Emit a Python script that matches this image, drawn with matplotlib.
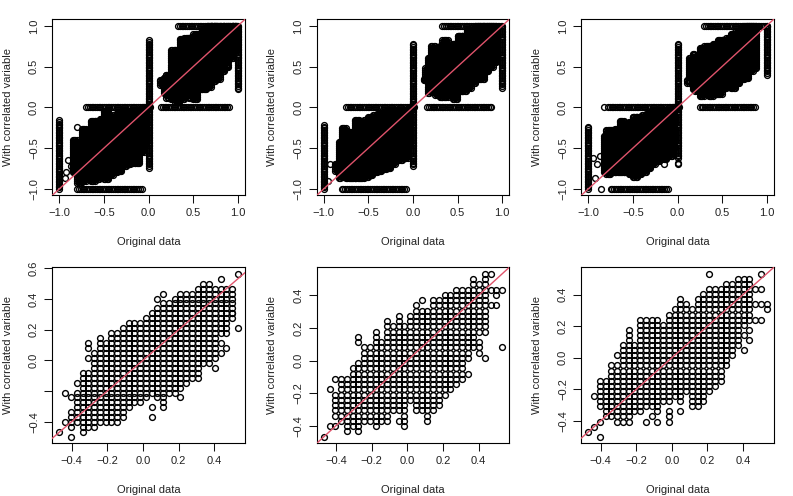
import numpy as np
import matplotlib
matplotlib.use("Agg")
import matplotlib.pyplot as plt

plt.rcParams['font.family'] = ['Liberation Sans', 'DejaVu Sans']

# Values. The black clouds are too dense to read point by
# point, so top panels store per-column envelopes and the lattice panels store
# per-column row ranges; points fill those read extents.
LATTICE = 31.0

# bottom panels: column index k -> (high row, low row), plus isolated (k, row) points
cols_bl = {-12:(-7,-13),-11:(-3,-15),-10:(-3,-14),-9:(1,-14),-8:(4,-13),-7:(3,-13),-6:(5,-13),-5:(5,-13),
           -4:(6,-12),-3:(7,-10),-2:(7,-9),-1:(7,-9),0:(8,-8),1:(9,-7),2:(10,-8),3:(11,-8),4:(11,-7),
           5:(12,-7),6:(13,-6),7:(13,-5),8:(13,-4),9:(14,-4),10:(15,-1),11:(15,-1),12:(14,0),13:(14,5),
           14:(14,5),15:(14,8)}
pts_bl = [(-15,-15),(-14,-7),(-14,-13),(-13,-8),(-13,-11),(-13,-12),(-13,-13),(-13,-14),(-13,-16),(-12,-5),
          (-10,3),(-10,2),(-10,0),(1,-10),(1,-12),(2,12),(3,13),(3,-9),(3,-10),(6,-8),(12,-2),(13,3),(13,1),
          (13,16),(14,2),(15,9),(16,17),(16,6)]

cols_bm = {-13:(-7,-11),-12:(-4,-12),-11:(-4,-14),-10:(-2,-13),-9:(-1,-13),-8:(2,-12),-7:(2,-12),-6:(3,-13),
           -5:(3,-12),-4:(7,-12),-3:(6,-10),-2:(8,-10),-1:(6,-10),0:(8,-8),1:(10,-10),2:(9,-10),3:(9,-12),
           4:(11,-10),5:(11,-9),6:(12,-7),7:(12,-6),8:(13,-5),9:(13,-4),10:(13,0),11:(15,2),12:(14,5),13:(15,5)}
pts_bm = [(-15,-15),(-14,-6),(-14,-13),(-13,-4),(-13,-13),(-9,3),(-9,4),(-9,-14),(-6,5),(-6,4),(-2,-12),
          (-1,-11),(-1,-12),(-1,-13),(2,11),(10,-3),(12,3),(12,2),(12,1),(13,16),(13,0),(14,16),(14,13),
          (14,10),(15,13),(15,12),(15,10),(16,13),(16,2)]

cols_br = {-13:(-5,-10),-12:(-5,-12),-11:(-2,-12),-10:(-2,-13),-9:(2,-13),-8:(5,-13),-7:(2,-11),-6:(7,-11),
           -5:(7,-10),-4:(7,-10),-3:(7,-11),-2:(6,-9),-1:(8,-9),0:(9,-8),1:(10,-9),2:(10,-7),3:(9,-10),
           4:(11,-10),5:(12,-9),6:(13,-7),7:(13,-6),8:(13,-5),9:(14,-2),10:(14,0),11:(15,2),12:(15,6),13:(15,7)}
pts_br = [(-15,-15),(-14,-8),(-14,-14),(-13,-13),(-13,-16),(-10,0),(-5,-13),(-4,-12),(-3,-13),(-1,-11),(-1,-12),
          (-1,-13),(1,11),(1,-11),(6,16),(12,4),(12,1),(13,5),(13,3),(14,13),(14,10),(14,7),(15,16),(15,13),
          (15,10),(15,7),(16,10),(16,9)]

# top panels: x, upper y, lower y of the dense clouds
tl_x = [-0.85,-0.80,-0.75,-0.70,-0.65,-0.60,-0.55,-0.50,-0.45,-0.40,-0.35,-0.30,-0.25,-0.20,-0.15,-0.10,-0.05,
        0.13,0.17,0.20,0.25,0.30,0.35,0.40,0.45,0.50,0.55,0.60,0.65,0.70,0.75,0.80,0.85,0.90,0.95]
tl_hi = [-0.40,-0.50,-0.27,-0.30,-0.17,-0.17,-0.14,-0.05,-0.12,-0.10,-0.07,-0.05,-0.05,-0.05,-0.03,-0.02,0.00,
         0.33,0.36,0.40,0.70,0.70,0.84,0.85,0.85,0.90,0.90,0.95,1.00,1.00,1.00,1.00,1.00,1.00,1.00]
tl_lo = [-0.80,-0.93,-0.90,-0.85,-0.90,-0.88,-0.85,-0.88,-0.83,-0.80,-0.78,-0.72,-0.70,-0.68,-0.68,-0.55,-0.45,
         0.27,0.18,0.12,0.10,0.07,0.10,0.15,0.12,0.10,0.22,0.23,0.25,0.32,0.35,0.45,0.50,0.60,0.70]
tl_pts = [(-0.93,-0.80),(-0.94,-0.87),(-0.90,-0.65),(-0.87,-0.72),(-0.84,-0.66),(-0.80,-0.24)]

tm_x = [-0.87,-0.83,-0.80,-0.75,-0.70,-0.65,-0.60,-0.55,-0.50,-0.45,-0.40,-0.35,-0.30,-0.25,-0.20,-0.12,-0.05,
        0.12,0.14,0.17,0.20,0.25,0.30,0.33,0.40,0.45,0.50,0.55,0.60,0.65,0.70,0.75,0.80,0.85,0.90]
tm_hi = [-0.70,-0.42,-0.25,-0.30,-0.30,-0.16,-0.18,-0.15,-0.12,-0.10,-0.08,-0.07,-0.05,-0.04,-0.03,-0.03,0.00,
         0.35,0.48,0.60,0.75,0.72,0.75,0.83,0.75,0.78,0.88,0.88,0.95,0.97,1.00,1.00,1.00,1.00,1.00]
tm_lo = [-0.78,-0.87,-0.85,-0.87,-0.87,-0.87,-0.87,-0.85,-0.83,-0.80,-0.78,-0.76,-0.75,-0.70,-0.65,-0.62,-0.45,
         0.33,0.33,0.18,0.20,0.15,0.13,0.13,0.15,0.10,0.20,0.20,0.24,0.30,0.35,0.35,0.45,0.50,0.55]
tm_pts = [(-0.93,-0.69),(-0.95,-0.90)]

tr_x = [-0.83,-0.80,-0.75,-0.70,-0.65,-0.60,-0.55,-0.50,-0.45,-0.40,-0.35,-0.30,-0.25,-0.20,-0.12,-0.05,
        0.11,0.13,0.17,0.20,0.25,0.30,0.35,0.40,0.45,0.50,0.55,0.60,0.65,0.70,0.75,0.80,0.85]
tr_hi = [-0.35,-0.28,-0.28,-0.27,-0.17,-0.22,-0.18,-0.12,-0.12,-0.10,-0.08,-0.05,-0.04,-0.03,-0.03,0.00,
         0.33,0.60,0.65,0.60,0.73,0.75,0.75,0.78,0.82,0.83,0.85,0.90,0.92,0.95,1.00,1.00,1.00]
tr_lo = [-0.80,-0.82,-0.80,-0.80,-0.80,-0.80,-0.82,-0.85,-0.82,-0.80,-0.75,-0.70,-0.66,-0.63,-0.60,-0.50,
         0.30,0.38,0.22,0.20,0.14,0.20,0.14,0.16,0.16,0.24,0.25,0.24,0.30,0.35,0.36,0.45,0.48]
tr_pts = [(-0.93,-0.87),(-0.95,-0.62),(-0.90,-0.70),(-0.87,-0.60),(-0.15,-0.69),(0.0,-0.68),(0.0,-0.70),(-0.83,0.0),(-0.86,-1.0)]

# rails: x=-1 span, x=0 span, x=1 span, y=0 negative span, y=-1 span, y=1 span, y=0 positive span
rails_tl = dict(xm1=(-1.0,-0.15), x0=(-0.74,0.82), xp1=(0.22,1.0), y0n=(-0.70,0.02), ym1=(-0.80,-0.07), yp1=(0.33,1.0), y0p=(0.14,0.90))
rails_tm = dict(xm1=(-1.0,-0.22), x0=(-0.72,0.78), xp1=(0.24,1.0), y0n=(-0.75,0.02), ym1=(-0.80,-0.08), yp1=(0.33,1.0), y0p=(0.16,0.88))
rails_tr = dict(xm1=(-1.0,-0.23), x0=(-0.62,0.78), xp1=(0.40,1.0), y0n=(-0.78,0.02), ym1=(-0.75,-0.10), yp1=(0.30,1.0), y0p=(0.25,0.88))

tick_top = [-1.0,-0.5,0.0,0.5,1.0]
lab_top = ['\u22121.0','\u22120.5','0.0','0.5','1.0']
tick_x_bot = [-0.4,-0.2,0.0,0.2,0.4]
lab_x_bot = ['\u22120.4','\u22120.2','0.0','0.2','0.4']
lab_y_bl = ['\u22120.4','','0.0','0.2','0.4','0.6']
tick_y_bl = [-0.4,-0.2,0.0,0.2,0.4,0.6]

W, H = 793.0, 496.0
frames = [(52.3,245.0,19.3,195.3),(316.7,509.3,19.3,195.3),(581.3,773.7,19.3,195.3),
          (52.3,245.0,267.3,443.3),(316.7,509.3,267.3,443.3),(581.3,773.7,267.3,443.3)]

def top_points(xs, hi, lo, pts, r):
    X, Y = [], []
    for n, (x, a, b) in enumerate(zip(xs, hi, lo)):
        nxt = xs[n + 1] if n + 1 < len(xs) else x + 0.03
        span = nxt - x if nxt - x <= 0.11 else 0.03
        for px in np.arange(x, x + span, 0.015):
            ys = np.append(np.arange(b, a, 0.025), a)
            X += [px] * len(ys); Y += list(ys)
    for key, at_x in (('xm1', -1.0), ('x0', 0.0), ('xp1', 1.0)):
        ys = np.arange(r[key][0], r[key][1] + 1e-9, 0.02)
        X += [at_x] * len(ys); Y += list(ys)
    for key, at_y in (('y0n', 0.0), ('ym1', -1.0), ('yp1', 1.0), ('y0p', 0.0)):
        xv = np.arange(r[key][0], r[key][1] + 1e-9, 0.02)
        X += list(xv); Y += [at_y] * len(xv)
    for p in pts:
        X.append(p[0]); Y.append(p[1])
    return X, Y

def lat_points(cols, pts):
    X, Y = [], []
    for k, (a, b) in cols.items():
        for j in range(b, a + 1):
            X.append((k + 0.5) / LATTICE); Y.append((j + 0.5) / LATTICE)
    for k, j in pts:
        X.append((k + 0.5) / LATTICE); Y.append((j + 0.5) / LATTICE)
    return X, Y

data = [top_points(tl_x, tl_hi, tl_lo, tl_pts, rails_tl),
        top_points(tm_x, tm_hi, tm_lo, tm_pts, rails_tm),
        top_points(tr_x, tr_hi, tr_lo, tr_pts, rails_tr),
        lat_points(cols_bl, pts_bl), lat_points(cols_bm, pts_bm), lat_points(cols_br, pts_br)]

limits = [((-1.08,1.08),(-1.08,1.08))]*3 + [((-0.508,0.572),(-0.541,0.607)),
          ((-0.508,0.572),(-0.508,0.572)), ((-0.508,0.572),(-0.541,0.573))]

fig = plt.figure(figsize=(7.93,4.96), dpi=100)
for i, ((x0,x1,y0,y1), (X,Y), (xl,yl)) in enumerate(zip(frames, data, limits)):
    ax = fig.add_axes([x0/W, 1-y1/H, (x1-x0)/W, (y1-y0)/H])
    ax.plot(X, Y, 'o', mfc='none', mec='black', ms=4.2, mew=1.0, ls='none', clip_on=True)
    ax.plot([-2,2],[-2,2], color='#DF536B', lw=1.0, zorder=5)
    ax.set_xlim(xl); ax.set_ylim(yl)
    if i < 3:
        ax.set_xticks(tick_top, lab_top); ax.set_yticks(tick_top, lab_top)
    else:
        ax.set_xticks(tick_x_bot, lab_x_bot)
        if i == 3:
            ax.set_yticks(tick_y_bl, lab_y_bl)
        else:
            ax.set_yticks(tick_x_bot, lab_x_bot)
    ax.tick_params(length=5.5, width=0.75, labelsize=8, pad=4, color='#111111', labelcolor='#222222')
    for t in ax.get_yticklabels():
        t.set_rotation(90); t.set_va('center')
    for s in ax.spines.values():
        s.set_linewidth(0.8)
    fig.text((x0+x1)/2/W, 1-(y1+47)/H, 'Original data', ha='center', va='center', fontsize=8, color='#222222')
    fig.text((x0-44.5)/W, 1-(y0+y1)/2/H, 'With correlated variable', rotation=90, ha='center', va='center', fontsize=8, color='#222222')
fig.savefig('out.png', dpi=100)
